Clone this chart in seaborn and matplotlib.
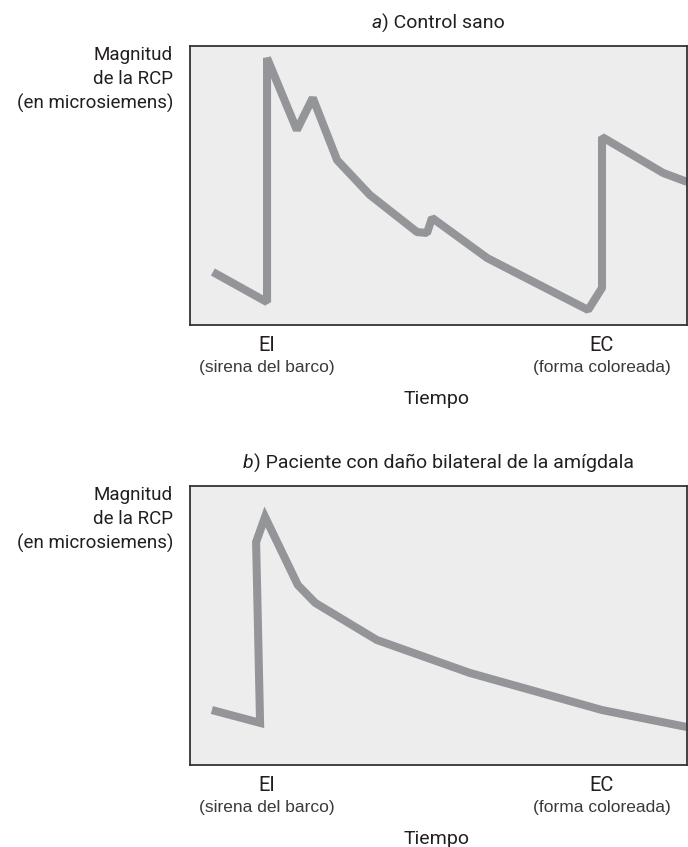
import matplotlib
matplotlib.use("Agg")
import matplotlib.pyplot as plt
import seaborn as sns
import pandas as pd

# Data (arbitrary units: time 0-100, magnitude 0-100)
time_a = [4.6, 15.5, 15.5, 21.5, 24.7, 29.6, 36.2, 45.7, 47.7, 48.7, 59.8, 80.1, 82.9, 82.9, 95.2, 100.0]
scr_a = [19.0, 8.2, 95.7, 69.9, 81.4, 59.1, 46.6, 33.3, 33.0, 38.4, 24.0, 5.4, 13.3, 67.4, 54.5, 51.3]
time_b = [4.4, 14.1, 13.3, 15.1, 21.7, 25.2, 37.6, 56.3, 82.9, 100.0]
scr_b = [19.7, 15.1, 79.9, 88.9, 64.5, 58.1, 44.8, 33.0, 19.7, 13.6]

title_letters = ["a", "b"]
title_rest = [") Control sano", ") Paciente con daño bilateral de la amígdala"]
ylabel_lines = ["Magnitud", "de la RCP", "(en microsiemens)"]
stim_pos = [15.5, 82.9]
stim_names = ["EI", "EC"]
stim_desc = ["(sirena del barco)", "(forma coloreada)"]
xlabel = "Tiempo"

sns.set_theme(style="white")
narrow = ["Roboto", "DejaVu Sans"]
regular = ["Liberation Sans", "DejaVu Sans"]
plt.rcParams["font.family"] = narrow

W, H = 688, 847
fig = plt.figure(figsize=(W / 100, H / 100), dpi=100)

line_color = "#939598"
face = "#ededed"
text_color = "#231f20"

panels = [
    (time_a, scr_a, 46, 325, "bevel"),
    (time_b, scr_b, 486, 765, "miter"),
]

for i, (tx, ty, top_px, bot_px, join) in enumerate(panels):
    left_px, right_px = 190, 687
    ax = fig.add_axes([left_px / W, 1 - bot_px / H, (right_px - left_px) / W, (bot_px - top_px) / H])
    df = pd.DataFrame({"t": tx, "v": ty})
    sns.lineplot(data=df, x="t", y="v", sort=False, estimator=None, errorbar=None,
                 ax=ax, color=line_color, linewidth=5.8,
                 solid_joinstyle=join, solid_capstyle="butt")
    ax.set_xlim(0, 100)
    ax.set_ylim(0, 100)
    ax.set_facecolor(face)
    ax.set_xticks([])
    ax.set_yticks([])
    ax.set_xlabel("")
    ax.set_ylabel("")
    for s in ax.spines.values():
        s.set_visible(True)
        s.set_color("#333333")
        s.set_linewidth(1.3)

    # title with italic letter, centred over the axes
    title_y = 1 - (top_px - 23) / H
    fs_t = 14
    tmp1 = fig.text(0, 0, title_letters[i], fontsize=fs_t, style="italic", alpha=0)
    tmp2 = fig.text(0, 0, title_rest[i], fontsize=fs_t, alpha=0)
    fig.canvas.draw()
    w1 = tmp1.get_window_extent().width
    w2 = tmp2.get_window_extent().width
    tmp1.remove(); tmp2.remove()
    cx = (left_px + right_px) / 2
    x0 = cx - (w1 + w2) / 2
    fig.text(x0 / W, title_y, title_letters[i], ha="left", va="center", fontsize=fs_t,
             style="italic", color=text_color)
    fig.text((x0 + w1) / W, title_y, title_rest[i], ha="left", va="center", fontsize=fs_t,
             color=text_color)

    # y label lines
    for j, ln in enumerate(ylabel_lines):
        ypx = top_px + 9 + 24 * j
        fig.text(173 / W, 1 - ypx / H, ln, ha="right", va="center", fontsize=13.5,
                 color=text_color)

    # stimulus labels
    for k in range(2):
        ax.text(stim_pos[k], -0.072, stim_names[k], transform=ax.get_xaxis_transform(),
                ha="center", va="center", fontsize=14.5, color=text_color, clip_on=False)
        ax.text(stim_pos[k], -0.154, stim_desc[k], transform=ax.get_xaxis_transform(),
                ha="center", va="center", fontsize=12.5, color="#3a3a3a",
                family=regular, clip_on=False)
    ax.text(0.497, -0.265, xlabel, transform=ax.transAxes, ha="center", va="center",
            fontsize=14, color=text_color, clip_on=False)

fig.savefig("out.png", dpi=100, facecolor="white")
